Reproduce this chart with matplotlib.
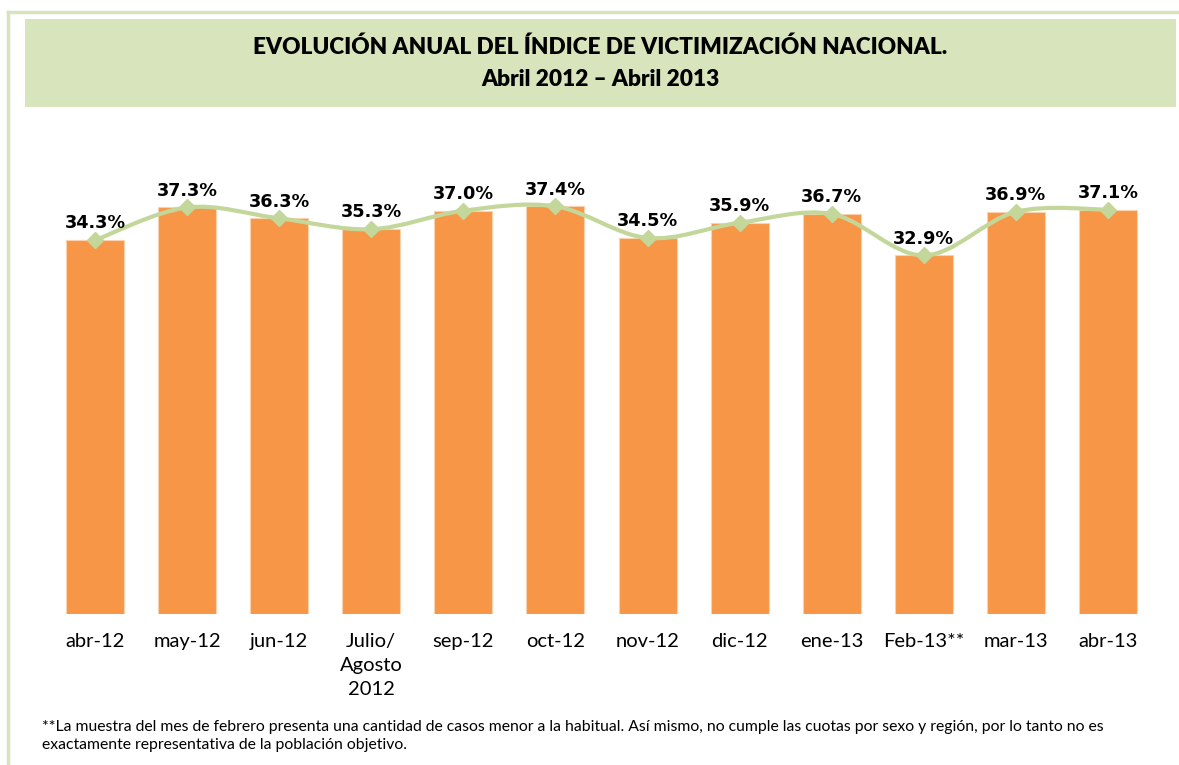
import numpy as np
import matplotlib
matplotlib.use("Agg")
import matplotlib.pyplot as plt
from matplotlib.path import Path
from matplotlib.patches import PathPatch, Rectangle
from matplotlib.lines import Line2D

# ---- data ----
categories = ["abr-12", "may-12", "jun-12", "Julio/\nAgosto\n2012", "sep-12", "oct-12",
              "nov-12", "dic-12", "ene-13", "Feb-13**", "mar-13", "abr-13"]
values = [34.3, 37.3, 36.3, 35.3, 37.0, 37.4, 34.5, 35.9, 36.7, 32.9, 36.9, 37.1]
title_line1 = "EVOLUCIÓN ANUAL DEL ÍNDICE DE VICTIMIZACIÓN NACIONAL."
title_line2 = "Abril 2012 – Abril 2013"
footnote_lines = [
    "**La muestra del mes de febrero presenta una cantidad de casos menor a la habitual. "
    "Así mismo, no cumple las cuotas por sexo y región, por lo tanto no es",
    "exactamente representativa de la población objetivo.",
]

W, H = 1179, 765
fig = plt.figure(figsize=(W / 100, H / 100), dpi=100)
fig.patch.set_facecolor("white")

def fx(px):
    return px / W

def fy(py):
    return 1 - py / H

BAR = "#F79646"
LINE = "#C4D79B"
GREEN_BG = "#D8E4BC"
BORDER = "#D7E4BD"

# outer border (top and left)
fig.add_artist(Line2D([fx(8), fx(1179)], [fy(12), fy(12)], color=BORDER, lw=2.5))
fig.add_artist(Line2D([fx(8), fx(8)], [fy(12), fy(765)], color=BORDER, lw=2.5))

# title box
fig.add_artist(Rectangle((fx(25), fy(107)), fx(1176) - fx(25), fy(19) - fy(107),
                         facecolor=GREEN_BG, edgecolor="none", transform=fig.transFigure))
fig.text(fx(600), fy(47), title_line1, ha="center", va="center", fontsize=16.3,
         fontweight="heavy", family="Lato", color="black")
fig.text(fx(600), fy(79), title_line2, ha="center", va="center", fontsize=16.3,
         fontweight="heavy", family="Lato", color="black")

# axes: baseline at y=614, ylim 0..45 maps 10.9 px per unit
left, right = 49, 1154
bottom = 614
top = bottom - 45 * 10.9
ax = fig.add_axes([fx(left), fy(bottom), fx(right) - fx(left), fy(top) - fy(bottom)])
ax.set_facecolor("none")
x = np.arange(len(values))
ax.bar(x, values, width=0.63, color=BAR, edgecolor="#FBD2B0", linewidth=0.8, zorder=2)
ax.set_xlim(-0.5, len(values) - 0.5)
ax.set_ylim(0, 45)

# smoothed line (Catmull-Rom -> cubic Bezier, in data coordinates)
pts = np.column_stack([x, values]).astype(float)
verts = [tuple(pts[0])]
codes = [Path.MOVETO]
t = 1 / 6
for i in range(len(pts) - 1):
    p0 = pts[i - 1] if i > 0 else pts[i]
    p1 = pts[i]
    p2 = pts[i + 1]
    p3 = pts[i + 2] if i + 2 < len(pts) else pts[i + 1]
    c1 = p1 + (p2 - p0) * t
    c2 = p2 - (p3 - p1) * t
    verts += [tuple(c1), tuple(c2), tuple(p2)]
    codes += [Path.CURVE4] * 3
ax.add_patch(PathPatch(Path(verts, codes), facecolor="none", edgecolor=LINE, lw=3,
                       zorder=3, capstyle="round"))
ax.plot(x, values, linestyle="none", marker="D", markersize=8, color=LINE,
        markeredgecolor=LINE, zorder=4)

for xi, v in zip(x, values):
    ax.annotate(f"{v:.1f}%", (xi, v), xytext=(0, 8.5), textcoords="offset points",
                ha="center", va="baseline", fontsize=12.7, fontweight="bold",
                family="DejaVu Sans", color="black", zorder=5)

ax.set_xticks(x)
ax.set_xticklabels(categories, fontsize=14.5, family="Lato", color="black",
                   linespacing=1.5, va="top")
ax.tick_params(axis="x", length=0, pad=14)
ax.set_yticks([])
for s in ax.spines.values():
    s.set_visible(False)

for i, line in enumerate(footnote_lines):
    fig.text(fx(42), fy(727 + 18 * i), line, ha="left", va="center", fontsize=11.3,
             family="Lato", color="black")

fig.savefig("out.png", dpi=100, facecolor="white")
